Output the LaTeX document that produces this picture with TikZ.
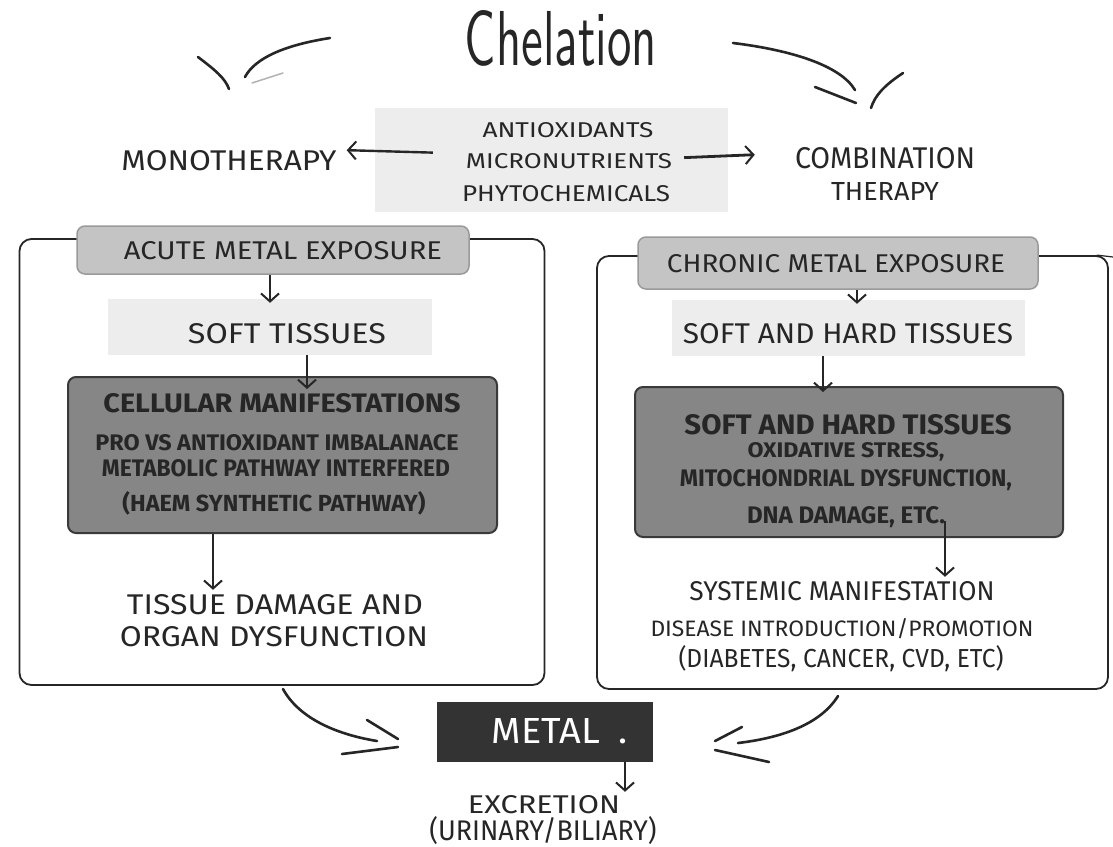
\documentclass[tikz,border=0pt]{standalone}
\usepackage{fontspec}
\usepackage{graphicx}
\setmainfont{Fira Sans}
\usetikzlibrary{arrows.meta,calc}
\definecolor{ink}{HTML}{262626}
\definecolor{hlc}{HTML}{EDEDED}
\definecolor{banf}{HTML}{C4C4C4}
\definecolor{band}{HTML}{9A9A9A}
\definecolor{darkf}{HTML}{868686}
\definecolor{darkd}{HTML}{3A3A3A}
\definecolor{metf}{HTML}{333333}
\newcommand\fitt[3]{\resizebox{#1pt}{#2pt}{#3}}
\tikzset{
  t/.style={inner sep=0pt, anchor=base, text=ink},
  tb/.style={t, font=\bfseries},
  hlbox/.style={fill=hlc, draw=none, inner sep=0pt},
  banner/.style={fill=banf, draw=band, line width=1.5pt, rounded corners=8pt, inner sep=0pt},
  darkbox/.style={fill=darkf, draw=darkd, line width=2pt, rounded corners=8pt, inner sep=0pt},
  frame/.style={draw=ink, line width=1.8pt, rounded corners=12pt, inner sep=0pt},
  metalbox/.style={fill=metf, draw=none, inner sep=0pt},
  arr/.style={draw=ink, line width=2pt, -{Straight Barb[length=8pt,width=18pt,line width=2pt]}},
  hand/.style={draw=ink, line width=2.6pt, line cap=round}
}
\begin{document}
\begin{tikzpicture}[x=1pt,y=-1pt]
\useasboundingbox[fill=white] (0,0) rectangle (1113,846);

% ---------- title ----------
\node[t, font=\sffamily] (chel) at (561,65) {\fitt{192}{55}{Chelation}};
\coordinate (tl1) at (330,38);
\coordinate (tl2) at (245,77);
\coordinate (tr1) at (733,43);
\coordinate (tr2) at (855,90);
\draw[hand] (tl1) .. controls (285,45) and (255,58) .. (tl2);
\draw[hand] (198,57) .. controls (215,70) and (225,78) .. (229,89);
\draw[hand, draw=gray!60, line width=1.5pt] (252,83) -- (283,73);
\draw[hand] (tr1) .. controls (790,50) and (840,65) .. (tr2);
\draw[hand] (815,87) -- (856,103);
\draw[hand] (903,73) .. controls (885,85) and (875,95) .. (871,108);

% ---------- top row ----------
\node[hlbox, minimum width=353pt, minimum height=104pt] (antibg) at (551.5,160) {};
\node[t] (anti1) at (568,137) {\fitt{171}{15}{ANTIOXIDANTS}};
\node[t] (anti) at (569,168) {\fitt{206}{15}{MICRONUTRIENTS}};
\node[t] (anti3) at (566,201) {\fitt{208}{16}{PHYTOCHEMICALS}};
\node[t] (mono) at (229,170) {\fitt{215}{20}{MONOTHERAPY}};
\node[t] (combo) at (885,168) {\fitt{180}{21}{COMBINATION}};
\node[t] (combo2) at (885,200) {\fitt{108}{18}{THERAPY}};
\draw[arr, line width=2.4pt] ([xshift=-33pt,yshift=8pt]anti.west) -- ([xshift=10pt,yshift=10pt]mono.east);
\draw[arr, line width=2.8pt] ([xshift=12pt,yshift=3pt]anti.east) -- ([xshift=-40pt,yshift=3pt]combo.west);

% ---------- left panel ----------
\node[frame, minimum width=525pt, minimum height=446pt] (boxL) at (282,462) {};
\node[banner, minimum width=392pt, minimum height=48pt] (acute) at (273,250) {};
\node[t] (acutet) at (283,259) {\fitt{318}{18}{ACUTE METAL EXPOSURE}};
\node[hlbox, minimum width=324pt, minimum height=56pt] (soft1bg) at (270,327) {};
\node[t] (soft1) at (287,343) {\fitt{198}{20}{SOFT TISSUES}};
\node[darkbox, minimum width=429pt, minimum height=156pt] (cell) at (282.5,455) {};
\node[tb] (cell1) at (282,412) {\fitt{357}{19}{CELLULAR MANIFESTATIONS}};
\node[tb] (cell2) at (277,450) {\fitt{363}{16}{PRO VS ANTIOXIDANT IMBALANACE}};
\node[tb] (cell3) at (276,476) {\fitt{348}{17}{METABOLIC PATHWAY INTERFERED}};
\node[tb] (cell4) at (274,511) {\fitt{303}{20}{(HAEM SYNTHETIC PATHWAY)}};
\node[t] (dam1) at (275,614) {\fitt{296}{20}{TISSUE DAMAGE AND}};
\node[t] (dam2) at (274,646) {\fitt{308}{20}{ORGAN DYSFUNCTION}};
\coordinate (xa) at (270,0);
\coordinate (xb) at (307,0);
\coordinate (xc) at (213,0);
\draw[arr] (acute.south -| xa) -- ([yshift=-4pt]soft1bg.north -| xa);
\draw[arr] (soft1bg.south -| xb) -- ([yshift=-13pt]cell.north -| xb);
\draw[arr] (cell.south -| xc) -- ([yshift=4pt]dam1.north -| xc);

% ---------- right panel ----------
\node[frame, minimum width=511pt, minimum height=433pt] (boxR) at (852.5,472.5) {};
\draw[ink, line width=1.2pt] ([xshift=-12pt]boxR.north east) -- (1113,257);
\node[banner, minimum width=400pt, minimum height=52pt] (chron) at (838,263) {};
\node[t] (chront) at (836,272) {\fitt{338}{18}{CHRONIC METAL EXPOSURE}};
\node[hlbox, minimum width=353pt, minimum height=56pt] (soft2bg) at (848.5,328) {};
\node[t] (soft2) at (848,343) {\fitt{330}{20}{SOFT AND HARD TISSUES}};
\node[darkbox, minimum width=428pt, minimum height=150pt] (rdark) at (849,462) {};
\node[tb] (rd1) at (848,434) {\fitt{327}{20}{SOFT AND HARD TISSUES}};
\node[tb] (rd2) at (846,457) {\fitt{197}{15}{OXIDATIVE STRESS,}};
\node[tb] (rd3) at (846,486) {\fitt{332}{17}{MITOCHONDRIAL DYSFUNCTION,}};
\node[tb] (rd4) at (846,523) {\fitt{198}{17}{DNA DAMAGE, ETC.}};
\node[t] (sys1) at (842,600) {\fitt{305}{19}{SYSTEMIC MANIFESTATION}};
\node[t] (sys2) at (842,636) {\fitt{383}{18}{DISEASE INTRODUCTION/PROMOTION}};
\node[t] (sys3) at (841,667) {\fitt{325}{22}{(DIABETES, CANCER, CVD, ETC)}};
\coordinate (xd) at (857,0);
\coordinate (xe) at (823,0);
\coordinate (xf) at (945,0);
\draw[arr] (chron.south -| xd) -- ([yshift=-4pt]soft2bg.north -| xd);
\draw[arr] (soft2bg.south -| xe) -- ([yshift=-6pt]rdark.north -| xe);
\draw[arr] ([yshift=17pt]rdark.south -| xf) -- ([yshift=4pt]sys1.north -| xf);

% ---------- metal ----------
\node[metalbox, minimum width=216pt, minimum height=60pt] (metal) at (545,732) {};
\node[t, text=white] (metalt) at (560,743) {\fitt{136}{25}{METAL\hspace{0.5em}.}};
\node[t] (excr) at (544,813) {\fitt{152}{18}{EXCRETION}};
\node[t] (excr2) at (543,840) {\fitt{227}{24}{(URINARY/BILIARY)}};
\coordinate (xg) at (625,0);
\draw[arr] (metal.south -| xg) -- ([yshift=3pt]excr.north -| xg);

% bottom curved arrows
\coordinate (bl1) at (283,689);
\coordinate (bl2) at (377,741);
\coordinate (br1) at (838,696);
\coordinate (br2) at (738,743);
\draw[hand] (bl1) .. controls (300,720) and (340,735) .. (bl2);
\draw[hand] (367,720) -- (398,739);
\draw[hand] (342,754) -- (398,747);
\draw[hand] (br1) .. controls (820,725) and (780,738) .. (br2);
\draw[hand] (742,727) -- (715,741);
\draw[hand] (715,750) -- (769,762);
\end{tikzpicture}
\end{document}
